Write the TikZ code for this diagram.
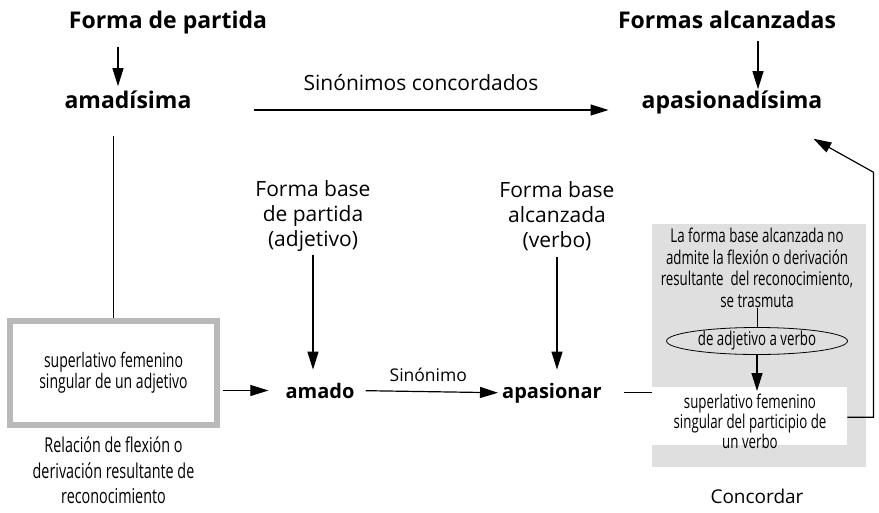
\documentclass[tikz,border=0pt]{standalone}
\usepackage{fontspec}
\setmainfont{Open Sans}
\newfontfamily\condfont[FakeStretch=0.7]{Open Sans}
\usetikzlibrary{arrows.meta,shapes.geometric}

\begin{document}
\begin{tikzpicture}[
  x=1pt,y=-1pt,
  every node/.style={inner sep=0pt,align=center,font=\fontsize{21}{25}\selectfont},
  hdr/.style={font=\fontsize{23}{27}\selectfont\bfseries},
  wrd/.style={font=\fontsize{20}{24}\selectfont\bfseries},
  cond/.style={font=\fontsize{20}{18}\condfont},
  small/.style={font=\fontsize{19}{17}\condfont},
  note/.style={font=\fontsize{20.5}{25.5}\condfont},
  arr/.style={line width=1.2pt,-{Triangle[length=18pt,width=11pt]}},
  conn/.style={line width=1.2pt},
  ]
  \useasboundingbox (0,0) rectangle (879,512);

  \node[hdr,anchor=base] (partida) at (168,28) {Forma de partida};
  \node[hdr,anchor=base] (alcanz) at (727,28) {Formas alcanzadas};
  \node[hdr,anchor=base] (amadisima) at (128,108) {amadísima};
  \node[hdr,anchor=base] (apasionadisima) at (732,108) {apasionadísima};
  \node[anchor=base] (concord) at (421,90) {Sinónimos concordados};

  \draw[arr,shorten <=13pt,shorten >=4pt] ([xshift=-50pt]partida.south) -- ([xshift=-10pt]amadisima.north);
  \draw[arr,shorten <=13pt,shorten >=1pt] ([xshift=31pt]alcanz.south) -- ([xshift=26pt]apasionadisima.north);
  \draw[arr,shorten <=62pt,shorten >=33pt] ([yshift=-2pt]amadisima.base east) -- ([yshift=-2pt]apasionadisima.base west);

  \node[draw=gray!55,line width=6pt,minimum width=207,minimum height=104,cond] (relbox) at (113.5,373)
    {superlativo femenino\\singular de un adjetivo};
  \node[note,anchor=north] (relnote) at (113.5,437) {Relación de flexión o\\derivación resultante de\\reconocimiento};
  \draw[conn,shorten >=28pt] (relbox.north) -- (relbox.north |- amadisima.south);

  \node (bpart) at (313,216) {Forma base\\de partida\\(adjetivo)};
  \node (balc) at (557,216) {Forma base\\alcanzada\\(verbo)};
  \node[wrd,anchor=base] (amado) at (320,398) {amado};
  \node[wrd,anchor=base] (apas) at (552,398) {apasionar};

  \draw[arr,shorten <=3pt,shorten >=13pt] (bpart.south) -- (bpart.south |- amado.north);
  \draw[arr,shorten <=6pt,shorten >=13pt] (balc.south) -- (balc.south |- apas.north);
  \draw[arr,shorten <=3pt,shorten >=17pt] (relbox.east |- amado) -- (amado.west);
  \draw[arr,shorten <=11pt,shorten >=4pt] (amado.east) -- (apas.west)
    node[midway,above=9pt,font=\fontsize{17.5}{20}\selectfont] (sinonimo) {Sinónimo};

  \node[fill=gray!25,minimum width=214,minimum height=243,anchor=north west] (concbox) at (652,224) {};
  \node[fill=white,minimum width=195,minimum height=58,anchor=north west] (partbox) at (652,387) {};
  \node[small] (parttext) at (750,421) {superlativo femenino\\singular del participio de\\un verbo};
  \node[small,font=\fontsize{19}{21.5}\condfont] (trasnote) at (757,268)
    {La forma base alcanzada no\\admite la flexión o derivación\\resultante\ \ del reconocimiento,\\se trasmuta};
  \node[draw,ellipse,line width=0.8pt,minimum width=181,minimum height=27,small] (transm) at (757,341) {de adjetivo a verbo};
  \draw[line width=0.8pt] (trasnote.south) -- (transm.north);
  \draw[arr,shorten >=-4pt] (transm.south) -- (transm.south |- partbox.north);
  \draw[conn,shorten <=22pt] (apas.east) -- (concbox.west |- apas);
  \draw[arr] ([yshift=-1pt]partbox.east) -- ++(26,0) -- ++(0,-245) -- ([shift={(-9,25)}]apasionadisima.south east);
  \node[anchor=base,font=\fontsize{19}{23}\selectfont] (concordar) at (757,503) {Concordar};
\end{tikzpicture}
\end{document}
